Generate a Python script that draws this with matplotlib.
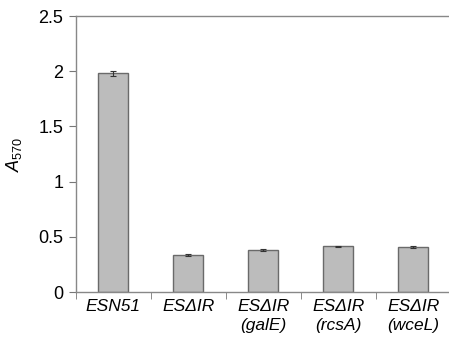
import numpy as np
import matplotlib.pyplot as plt

plt.rcParams['font.family'] = ['Liberation Sans', 'DejaVu Sans']
plt.rcParams['mathtext.fontset'] = 'custom'
plt.rcParams['mathtext.rm'] = 'Liberation Sans'
plt.rcParams['mathtext.it'] = 'Liberation Sans:italic'

strains = ['ESN51', 'ES\u0394IR', 'ES\u0394IR\n(galE)', 'ES\u0394IR\n(rcsA)', 'ES\u0394IR\n(wceL)']
a570 = [1.98, 0.335, 0.38, 0.415, 0.41]
err = [0.02, 0.008, 0.006, 0.006, 0.008]

fig = plt.figure(figsize=(4.49, 3.37), dpi=100)
ax = fig.add_axes([0.169, 0.1335, 0.835, 0.819])

x = np.arange(len(strains))
ax.bar(x, a570, width=0.4, color='#bcbcbc', edgecolor='#6a6a6a', linewidth=1.0,
       yerr=err, capsize=2.5, error_kw=dict(ecolor='#333333', elinewidth=0.8, capthick=0.8))

ax.set_xlim(-0.5, len(strains) - 0.5)
ax.set_ylim(0, 2.5)
ax.set_yticks([0, 0.5, 1, 1.5, 2, 2.5])
ax.set_yticklabels(['0', '0.5', '1', '1.5', '2', '2.5'], fontsize=13)

# labels under bars, tick marks between categories
ax.set_xticks(x)
ax.set_xticklabels(strains, fontsize=12.5, style='italic', linespacing=1.3)
ax.tick_params(axis='x', which='major', length=0, pad=5)
ax.set_xticks(np.arange(len(strains) + 1) - 0.5, minor=True)
ax.tick_params(axis='x', which='minor', length=5, color='#777777', direction='out')
ax.tick_params(axis='y', length=5, color='#777777', direction='out', pad=4)

ax.spines['right'].set_visible(False)
for s in ['left', 'bottom', 'top']:
    ax.spines[s].set_color('#888888')
    ax.spines[s].set_linewidth(1.0)

ax.set_ylabel(r'$\mathit{A}_{\rm 570}$', fontsize=13, labelpad=10)

fig.savefig('out.png', dpi=100)
